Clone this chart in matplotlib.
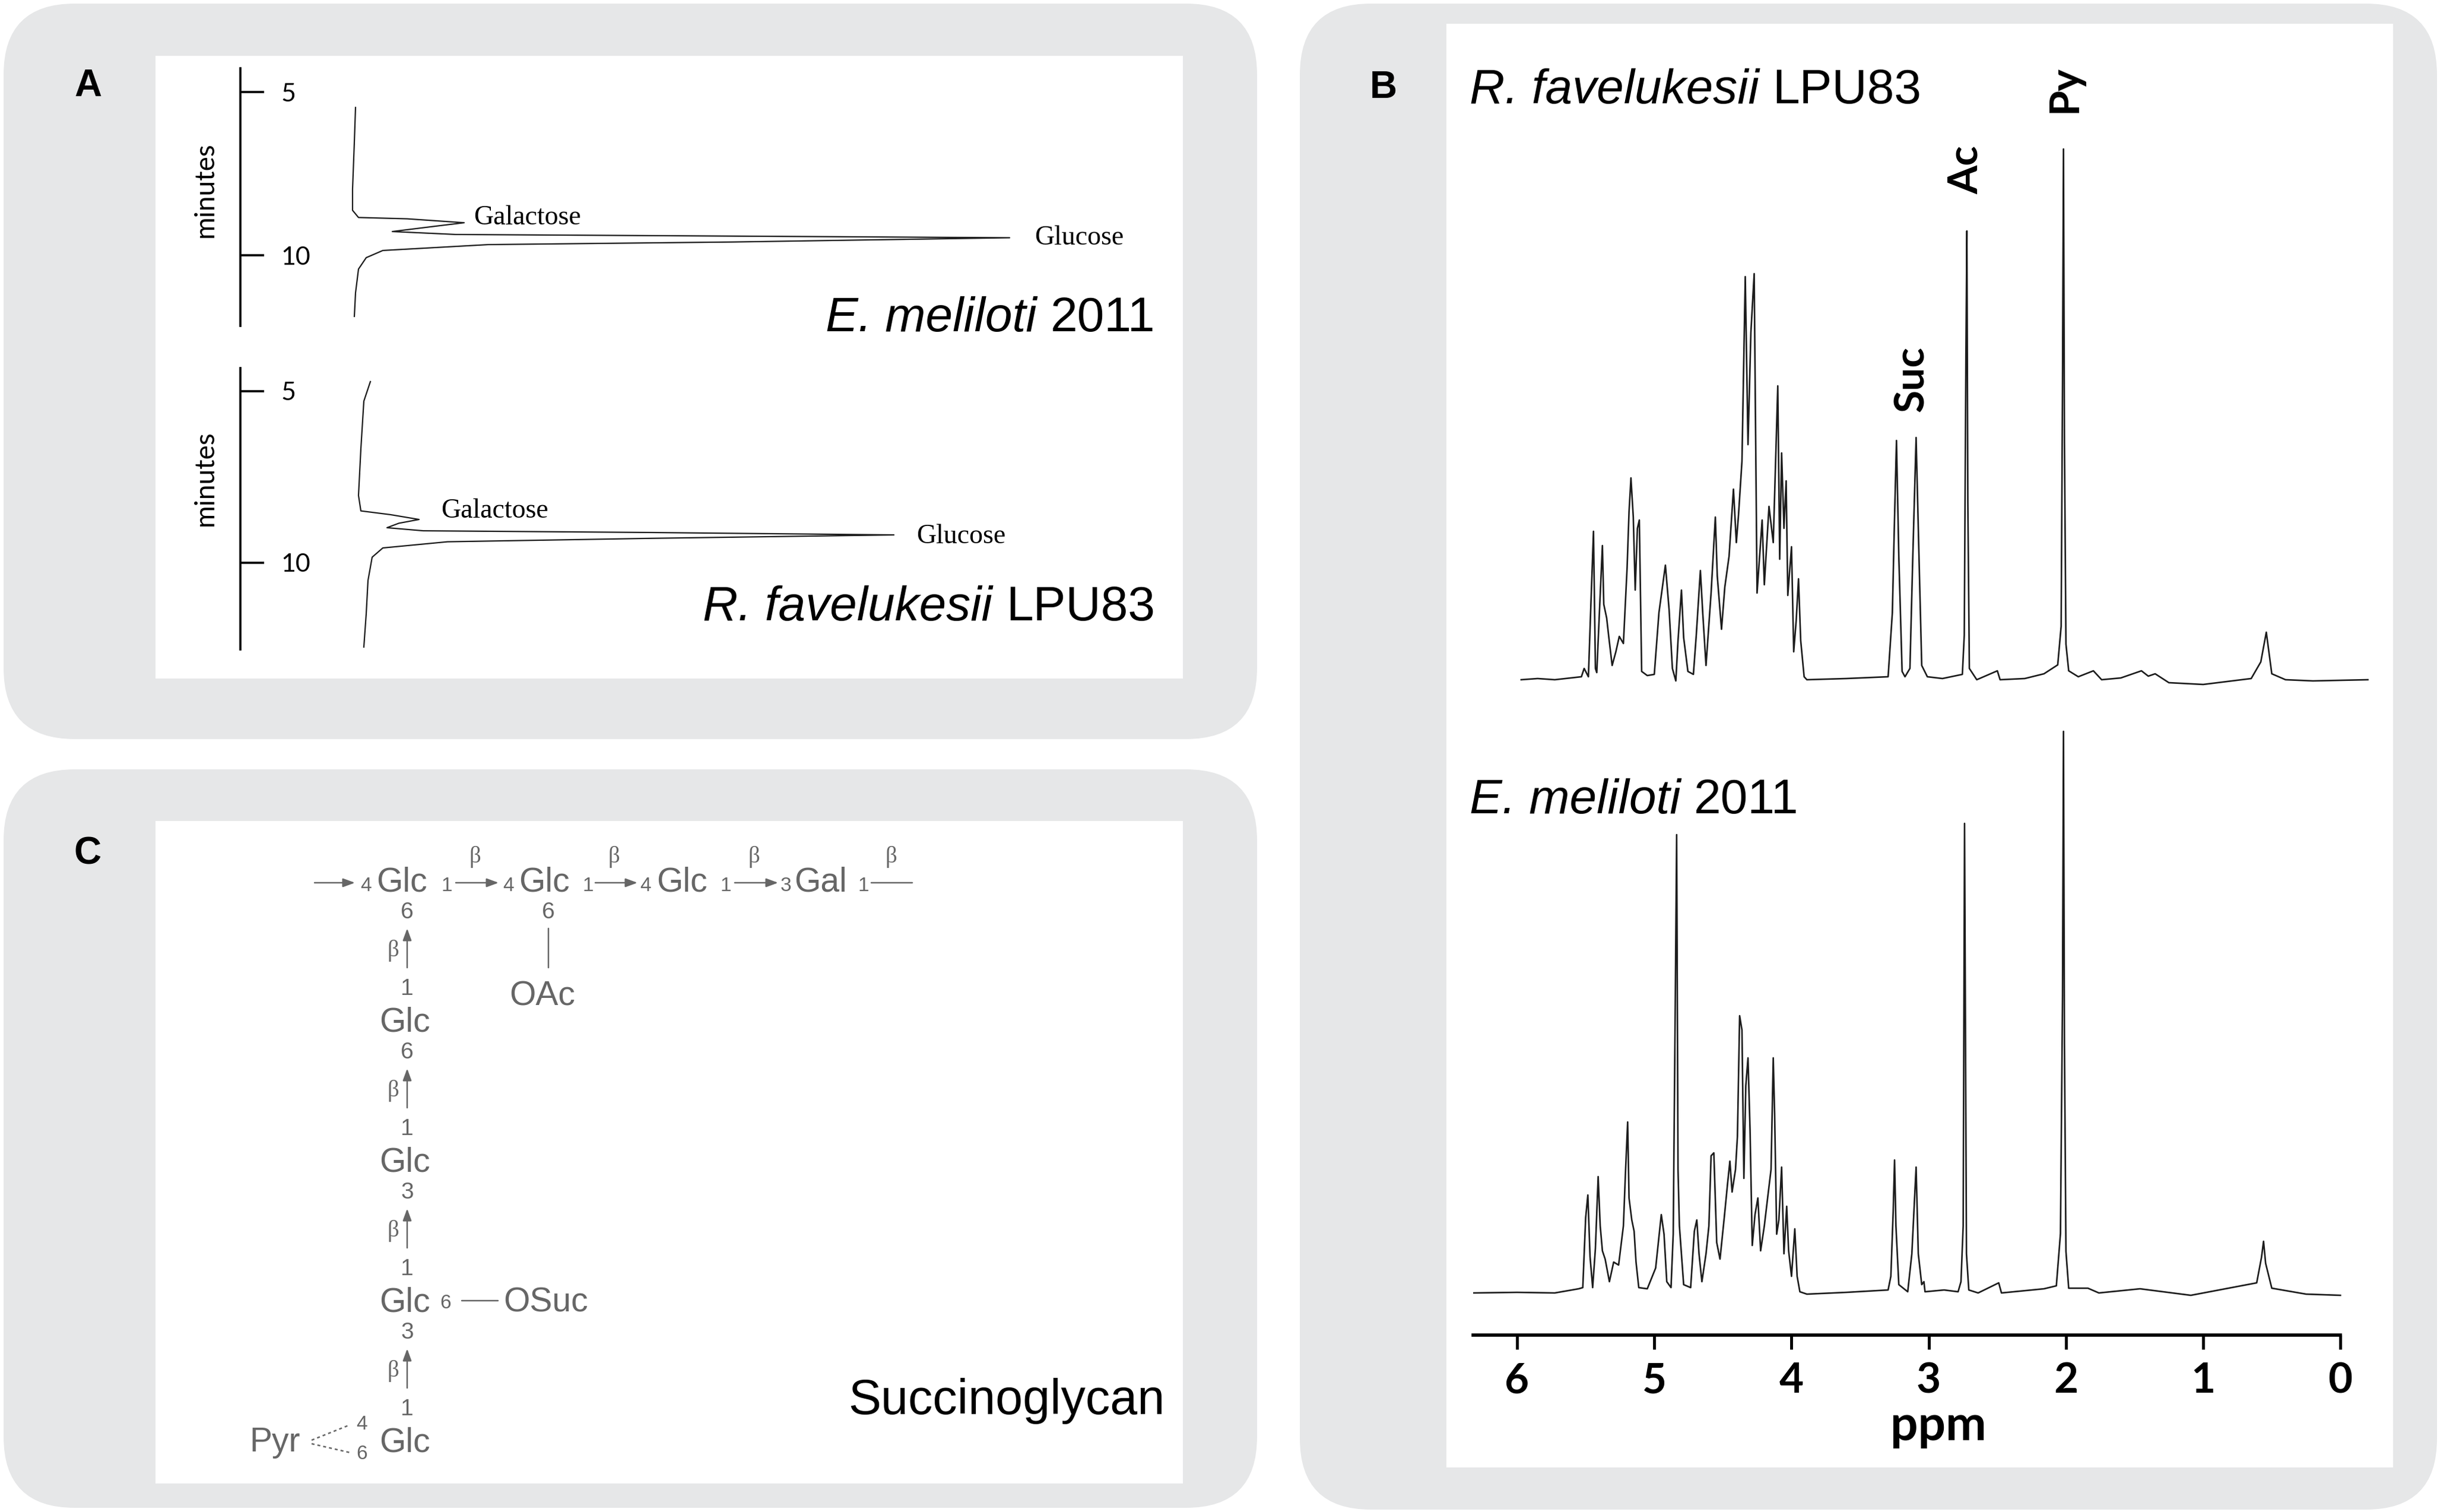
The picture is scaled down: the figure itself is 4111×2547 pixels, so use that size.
import matplotlib
matplotlib.use("Agg")
import matplotlib.pyplot as plt
from matplotlib.patches import FancyBboxPatch, FancyArrowPatch, Rectangle

W, H = 4111, 2547
DPI = 100

# ---------------- data ----------------
# Panel A, GC chromatograms: retention time (min) and detector signal (arbitrary)
em_chrom_time = [5.47, 6.53, 7.97, 8.62, 8.84, 8.88, 9.00, 9.09, 9.27, 9.36, 9.41,
                 9.46, 9.59, 9.67, 9.85, 10.07, 10.42, 11.15, 11.87]
em_chrom_signal = [2, 0, -3, -3, 7, 89, 185, 144, 64, 171, 638,
                   1104, 638, 226, 48, 20, 7, 2, 0]

rf_chrom_time = [4.72, 5.29, 6.68, 8.04, 8.49, 8.60, 8.74, 8.85, 8.98, 9.07, 9.12,
                 9.19, 9.29, 9.39, 9.57, 9.84, 10.52, 11.49, 12.46]
rf_chrom_signal = [11, 0, -5, -9, -5, 45, 93, 59, 39, 100, 484,
                   893, 484, 141, 32, 14, 7, 4, 0]

chrom_ticks = [5, 10]

# Panel B, 1H NMR spectra: chemical shift (ppm) and intensity (arbitrary)
rf_ppm = [5.97, 5.85, 5.725, 5.531, 5.511, 5.48, 5.464, 5.443, 5.429, 5.419, 5.398,
          5.378, 5.368, 5.347, 5.331, 5.307, 5.280, 5.255, 5.225, 5.198, 5.184, 5.170,
          5.153, 5.139, 5.123, 5.109, 5.092, 5.051, 5.000, 4.966, 4.919, 4.892, 4.868,
          4.843, 4.827, 4.802, 4.786, 4.755, 4.715, 4.694, 4.664, 4.647, 4.623, 4.586,
          4.555, 4.541, 4.510, 4.486, 4.455, 4.423, 4.402, 4.386, 4.361, 4.337, 4.317,
          4.296, 4.272, 4.251, 4.214, 4.198, 4.164, 4.133, 4.100, 4.086, 4.072, 4.055,
          4.039, 4.027, 4.000, 3.984, 3.966, 3.949, 3.933, 3.908, 3.888, 3.60, 3.296,
          3.265, 3.251, 3.235, 3.218, 3.194, 3.173, 3.137, 3.116, 3.092, 3.071, 3.051,
          3.010, 2.90, 2.755, 2.741, 2.729, 2.722, 2.715, 2.704, 2.65, 2.50, 2.48,
          2.30, 2.16, 2.06, 2.035, 2.025, 2.018, 2.011, 2.00, 1.98, 1.91, 1.80, 1.74,
          1.60, 1.45, 1.40, 1.35, 1.25, 1.00, 0.65, 0.58, 0.54, 0.50, 0.40, 0.20, -0.20]
rf_int = [0, 2, 0, 5, 19, 5, 113, 250, 19, 12, 123,
          226, 127, 104, 71, 24, 47, 73, 61, 189, 283, 340,
          274, 151, 255, 269, 14, 7, 9, 113, 193, 118, 19,
          -2, 66, 151, 71, 14, 9, 75, 184, 113, 24, 146,
          274, 175, 85, 156, 208, 321, 231, 278, 368, 679, 396,
          585, 684, 146, 269, 160, 292, 231, 495, 203, 382, 255,
          335, 142, 224, 47, 99, 170, 66, 5, 0, 2, 5,
          113, 255, 403, 208, 14, 5, 19, 208, 408, 208, 24,
          5, 2, 9, 75, 547, 756, 300, 19, 0, 15, 0,
          2, 10, 25, 90, 500, 894, 400, 60, 15, 5, 15, 0,
          3, 15, 6, 10, -5, -8, 2, 30, 80, 10, 0, -2, 0]

em_ppm = [6.32, 6.00, 5.725, 5.551, 5.521, 5.500, 5.484, 5.468, 5.449, 5.429, 5.409,
          5.394, 5.378, 5.358, 5.327, 5.296, 5.260, 5.225, 5.209, 5.194, 5.184, 5.164,
          5.147, 5.133, 5.113, 5.051, 4.990, 4.949, 4.929, 4.909, 4.878, 4.862, 4.847,
          4.837, 4.827, 4.817, 4.786, 4.735, 4.708, 4.690, 4.674, 4.653, 4.623, 4.602,
          4.586, 4.566, 4.545, 4.521, 4.490, 4.466, 4.449, 4.433, 4.408, 4.394, 4.378,
          4.361, 4.347, 4.333, 4.317, 4.302, 4.286, 4.266, 4.245, 4.225, 4.198, 4.174,
          4.149, 4.133, 4.123, 4.108, 4.092, 4.072, 4.055, 4.035, 4.021, 4.000, 3.976,
          3.959, 3.939, 3.888, 3.60, 3.296, 3.276, 3.259, 3.249, 3.239, 3.218, 3.153,
          3.123, 3.092, 3.076, 3.051, 3.035, 3.027, 2.888, 2.786, 2.765, 2.749, 2.739,
          2.725, 2.708, 2.64, 2.49, 2.47, 2.16, 2.07, 2.04, 2.025, 2.018, 2.011,
          2.00, 1.98, 1.84, 1.76, 1.46, 1.09, 0.61, 0.575, 0.56, 0.545, 0.50, 0.25, 0.00]
em_int = [0, 1, 0, 7, 9, 127, 165, 61, 9, 75, 196,
          113, 71, 57, 19, 52, 47, 113, 208, 288, 160, 123,
          104, 52, 9, 7, 42, 132, 99, 19, 9, 99, 491,
          772, 208, 113, 14, 9, 104, 123, 66, 19, 66, 113,
          231, 236, 85, 57, 127, 184, 222, 170, 208, 264, 467,
          443, 193, 349, 396, 274, 80, 132, 160, 71, 113, 160,
          208, 396, 302, 99, 123, 212, 66, 146, 71, 28, 108,
          28, 2, -2, 1, 5, 28, 137, 224, 113, 14, 2,
          66, 212, 66, 14, 19, 2, 5, 2, 19, 113, 791,
          66, 5, 0, 17, 0, 7, 12, 100, 500, 946, 420,
          70, 8, 8, 0, 7, -4, 17, 60, 87, 50, 8, -2, -4]

ppm_ticks = [0, 1, 2, 3, 4, 5, 6]

# Panel C, succinoglycan side chain: linkage positions from the top down
side_links = [("6", "1"), ("6", "1"), ("3", "1"), ("3", "1")]

# ---------------- styling ----------------
BOX_GRAY = "#e6e7e8"
INK = "#1c1c1c"
CHAIN = "#666666"
SANS = "Liberation Sans"
SERIF = "Liberation Serif"
CAL = "Lato"

fig = plt.figure(figsize=(W / DPI, H / DPI), dpi=DPI)
fig.patch.set_facecolor("white")
bg = fig.add_axes([0, 0, 1, 1])
bg.set_xlim(0, W)
bg.set_ylim(H, 0)
bg.axis("off")


def px_axes(x0, y0, x1, y1):
    a = fig.add_axes([x0 / W, 1 - y1 / H, (x1 - x0) / W, (y1 - y0) / H])
    a.set_facecolor("none")
    return a


# rounded grey panels and white inner areas
for x0, y0, x1, y1 in [(6, 6, 2118, 1245), (6, 1296, 2118, 2540), (2190, 6, 4106, 2543)]:
    bg.add_patch(FancyBboxPatch((x0, y0), x1 - x0, y1 - y0,
                                boxstyle="round,pad=0,rounding_size=120",
                                fc=BOX_GRAY, ec="none"))
for x0, y0, x1, y1 in [(262, 94, 1993, 1143), (262, 1383, 1993, 2499), (2437, 40, 4032, 2472)]:
    bg.add_patch(Rectangle((x0, y0), x1 - x0, y1 - y0, fc="white", ec="none"))

# panel letters
for letter, x, y in [("A", 148, 145), ("C", 147, 1438), ("B", 2331, 148)]:
    bg.text(x, y, letter, fontsize=46, fontweight="bold", family=SANS,
            ha="center", va="center", color="black")


def species(x, y, italic, plain, right=False, size=59):
    # italic genus/species followed by upright strain name, baseline at y
    if right:
        t2 = bg.text(x, y, plain, fontsize=size, family=SANS, ha="right", va="baseline")
        bg.annotate(italic + " ", xy=(0, 0), xycoords=t2, fontsize=size, family=SANS,
                    style="italic", ha="right", va="bottom")
    else:
        t1 = bg.text(x, y, italic + " ", fontsize=size, family=SANS, style="italic",
                     ha="left", va="baseline")
        bg.annotate(plain, xy=(1, 0), xycoords=t1, fontsize=size, family=SANS,
                    ha="left", va="bottom")


# ---------------- panel A ----------------
def chromatogram(box, tlim, xlim, time, signal, gal, glc, minutes_y):
    ax = px_axes(*box)
    ax.plot(signal, time, color=INK, lw=1.6)
    ax.set_xlim(*xlim)
    ax.set_ylim(*tlim)
    for s in ["top", "right", "bottom"]:
        ax.spines[s].set_visible(False)
    ax.spines["left"].set_linewidth(2.6)
    ax.set_xticks([])
    ax.set_yticks(chrom_ticks)
    ax.set_yticklabels([str(t) for t in chrom_ticks])
    ax.tick_params(axis="y", direction="in", length=29, width=2.6, pad=-49,
                   labelsize=31)
    for lbl in ax.get_yticklabels():
        lbl.set_ha("left")
        lbl.set_family(CAL)
    bg.text(346, minutes_y, "minutes", rotation=90, fontsize=33, family=CAL,
            ha="center", va="center")
    bg.text(gal[0], gal[1], "Galactose", fontsize=33, family=SERIF, va="baseline")
    bg.text(glc[0], glc[1], "Glucose", fontsize=33, family=SERIF, va="baseline")
    return ax


chromatogram((405, 115, 1992, 549), (12.16, 4.27), (-192, 1395),
             em_chrom_time, em_chrom_signal, (798, 378), (1743, 412), 320)
chromatogram((405, 620, 1992, 1094), (12.53, 4.325), (-208, 1379),
             rf_chrom_time, rf_chrom_signal, (743, 872), (1544, 915), 806)
species(1946, 558, "E. meliloti", "2011", right=True)
species(1946, 1045, "R. favelukesii", "LPU83", right=True)

# ---------------- panel B ----------------
XLIM = (6.32, -0.25)
ax_top = px_axes(2482, 200, 4001, 1170)
ax_top.plot(rf_ppm, rf_int, color=INK, lw=1.9)
ax_top.set_xlim(*XLIM)
ax_top.set_ylim(-25, 945)
ax_top.axis("off")

ax_bot = px_axes(2482, 1180, 4001, 2249)
ax_bot.plot(em_ppm, em_int, color=INK, lw=1.9)
ax_bot.set_xlim(*XLIM)
ax_bot.set_ylim(-71, 998)
for s in ["top", "right", "left"]:
    ax_bot.spines[s].set_visible(False)
ax_bot.spines["bottom"].set_linewidth(4)
ax_bot.spines["bottom"].set_bounds(0, 6.32)
ax_bot.set_yticks([])
ax_bot.set_xticks(ppm_ticks)
ax_bot.set_xticklabels([str(t) for t in ppm_ticks])
ax_bot.tick_params(axis="x", direction="out", length=17, width=3.5, pad=15,
                   labelsize=51)
for lbl in ax_bot.get_xticklabels():
    lbl.set_family(CAL)
    lbl.set_fontweight("bold")
bg.text(3266, 2402, "ppm", fontsize=59, fontweight="bold", family=CAL,
        ha="center", va="center")

for name, x, y in [("Suc", 3.12, 507), ("Ac", 2.73, 859), ("Py", 2.01, 995)]:
    ax_top.text(x, y, name, rotation=90, fontsize=50, fontweight="bold", family=CAL,
                ha="center", va="center", clip_on=False)

species(2476, 174, "R. favelukesii", "LPU83")
species(2476, 1370, "E. meliloti", "2011")

# ---------------- panel C: succinoglycan repeating unit ----------------
BIG, TOPNUM, SIDENUM, BETA = 41, 24, 28, 28


def ctext(x, y, s, size=BIG, ha="left", va="baseline", family=SANS):
    bg.text(x, y, s, fontsize=size, ha=ha, va=va, color=CHAIN, family=family)


def carrow(x0, y0, x1, y1, head=True):
    style = "-|>,head_length=0.6,head_width=0.22" if head else "-"
    bg.add_patch(FancyArrowPatch((x0, y0), (x1, y1), arrowstyle=style,
                                 mutation_scale=20, lw=1.8, color=CHAIN,
                                 shrinkA=0, shrinkB=0))


# main chain
ROW = 1501
ARW = 1487
carrow(530, ARW, 598, ARW)
for s, x in [("4", 607), ("1", 743), ("4", 847), ("1", 982), ("4", 1078),
             ("1", 1214), ("3", 1315), ("1", 1445)]:
    ctext(x, ROW, s, size=TOPNUM)
for s, x in [("Glc", 634), ("Glc", 874), ("Glc", 1106), ("Gal", 1338)]:
    ctext(x, ROW, s)
for x0, x1 in [(768, 840), (1003, 1074), (1238, 1311)]:
    carrow(x0, ARW, x1, ARW)
carrow(1468, ARW, 1537, ARW, head=False)
for x in [800, 1034, 1270, 1501]:
    ctext(x, 1444, "β", size=BETA, ha="center", va="center", family=SERIF)

# side chain: Glc residues hanging from the first backbone glucose
CX = 686
STEP = 236
glc_rows = [ROW + STEP * (k + 1) for k in range(len(side_links))]
for k, (upper, lower) in enumerate(side_links):
    top = ROW + STEP * k
    ctext(CX, top + 36, upper, size=SIDENUM, ha="center", va="center")
    carrow(CX, top + 129, CX, top + 63)
    ctext(662, top + 100, "β", size=BETA, ha="center", va="center", family=SERIF)
    ctext(CX, top + 165, lower, size=SIDENUM, ha="center", va="center")
for y in glc_rows:
    ctext(682, y, "Glc", ha="center")

# acetyl on second glucose
ctext(924, ROW + 36, "6", size=SIDENUM, ha="center", va="center")
carrow(924, ROW + 63, 924, ROW + 129, head=False)
ctext(858, ROW + 192, "OAc")

# succinyl on third side-chain glucose
ysuc = glc_rows[2]
ctext(751, ysuc - 14, "6", size=TOPNUM, ha="center", va="center")
carrow(778, ysuc - 18, 839, ysuc - 18, head=False)
ctext(848, ysuc, "OSuc")

# pyruvyl ketal on terminal glucose
ypyr = glc_rows[3]
ctext(420, ypyr, "Pyr")
ctext(610, ypyr - 45, "4", size=TOPNUM, ha="center", va="center")
ctext(610, ypyr + 4, "6", size=TOPNUM, ha="center", va="center")
bg.plot([525, 590], [ypyr - 19, ypyr - 45], color=CHAIN, lw=1.8, ls=(0, (2, 2)))
bg.plot([525, 590], [ypyr - 13, ypyr + 2], color=CHAIN, lw=1.8, ls=(0, (2, 2)))

bg.text(1963, 2382, "Succinoglycan", fontsize=59.5, family=SANS, ha="right",
        va="baseline", color="black")

fig.savefig("out.png", dpi=DPI)
